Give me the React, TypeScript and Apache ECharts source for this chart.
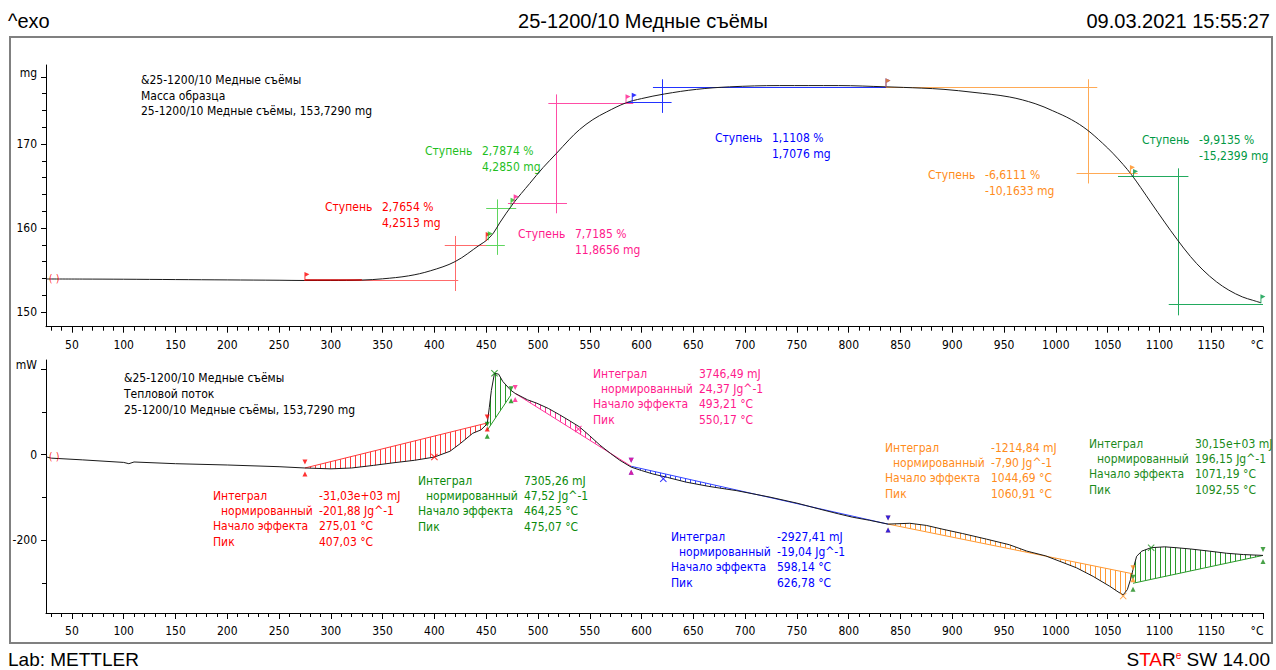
import React, { useEffect, useRef } from 'react';
import * as echarts from 'echarts';

const FONT = '"DejaVu Sans Condensed", "Liberation Sans", Arial, sans-serif';
const HFONT = '"Liberation Sans", Arial, sans-serif';

// ---------- TGA (mass) curve ----------
const tgaT = [25, 60, 100, 150, 200, 250, 275, 300, 330, 350, 375, 396, 420, 444, 450, 457, 463, 476, 492, 505, 518, 530, 540, 553, 566, 585, 600, 622, 653, 685, 733, 790, 836, 870, 892, 920, 955, 980, 997, 1015, 1030, 1045, 1055, 1065, 1073, 1082, 1092, 1105, 1117, 1130, 1142, 1155, 1167, 1180, 1190, 1198];
const tgaM = [153.93, 153.92, 153.9, 153.86, 153.82, 153.78, 153.75, 153.75, 153.8, 153.95, 154.3, 154.9, 156.0, 158.0, 158.5, 159.4, 160.6, 162.9, 165.3, 167.2, 168.9, 170.5, 171.7, 172.9, 173.8, 174.9, 175.4, 175.95, 176.5, 176.8, 176.95, 176.95, 176.8, 176.65, 176.5, 176.15, 175.6, 174.8, 173.95, 172.9, 171.7, 170.1, 168.9, 167.55, 166.35, 164.8, 163.0, 160.7, 158.65, 156.6, 155.0, 153.6, 152.6, 151.8, 151.4, 151.1];

// step evaluation construction lines (temperature °C, mass mg)
const stepLevel1 = [153.8, 158.0, 162.9, 174.96, 176.75, 166.2];
const stepLevel1From = [330, 450, 471, 585, 836, 1060];
const stepLevel1To = [423, 468, 528, 629, 1040, 1128];
const stepLevel2 = [158.0, 162.4, 174.85, 176.7, 166.5, 150.96];
const stepLevel2From = [410, 450, 510, 611, 1020, 1109];
const stepLevel2To = [458, 479, 592, 836, 1079, 1200];
const stepMidT = [420, 460.6, 518, 620, 1031, 1118];
const stepMidLow = [152.5, 156.8, 161.75, 173.7, 165.3, 149.6];
const stepMidHigh = [159.05, 163.4, 175.9, 177.7, 177.7, 167.1];
const redBaseFrom = 275;
const redBaseTo = 330;
const flagT = [275, 450, 452, 474, 477, 585, 591, 836, 836, 1072, 1075, 1198];
const flagM = [153.75, 158.5, 158.6, 162.6, 163.0, 174.9, 175.1, 176.8, 176.8, 166.5, 166.0, 151.1];
const flagStep = [0, 0, 1, 1, 2, 2, 3, 3, 4, 4, 5, 5];
const stepPercent = ['2,7654 %', '2,7874 %', '7,7185 %', '1,1108 %', '-6,6111 %', '-9,9135 %'];
const stepMass = ['4,2513 mg', '4,2850 mg', '11,8656 mg', '1,7076 mg', '-10,1633 mg', '-15,2399 mg'];

// ---------- DSC (heat flow) curve ----------
const dscT = [25, 30, 60, 100, 105, 110, 150, 200, 250, 275, 300, 320, 341, 360, 381, 400, 415, 425, 437, 445, 451, 453, 455, 458, 462, 466, 472, 474, 478, 490, 499, 510, 521, 530, 540, 550, 560, 570, 579, 590, 600, 611, 625, 643, 665, 692, 724, 750, 772, 790, 804, 820, 838, 859, 875, 891, 910, 933, 955, 972, 990, 1004, 1020, 1036, 1052, 1060, 1065, 1069, 1072, 1074.5, 1078, 1083, 1092, 1105, 1116, 1130, 1148, 1165, 1181, 1200];
const dscP = [-5, -8, -12, -18, -21, -17, -21, -24, -28, -31, -33, -31, -25, -19, -13, -5.5, 8, 26, 50, 58, 72, 110, 150, 190, 188, 171, 155, 150, 143, 128, 120, 108, 93, 80, 65, 44, 22, 3, -13, -29, -37, -45, -53, -64, -74, -84, -99, -113, -127, -138, -146, -153, -162, -160, -165, -174, -184, -197, -210, -225, -236, -249, -264, -284, -307, -320, -327, -315, -292, -268, -237, -225, -217, -215, -217, -220, -225, -230, -233, -235];

// integration regions
const regionStart = [275, 451, 478, 590, 838, 1074.5];
const regionEnd = [451, 474, 590, 838, 1074.5, 1200];
const baseStart = [-31, 57, 143, -27, -162, -300];
const baseEnd = [74, 140, -27, -162, -278, -235];
const peakT = [400, 458, 539, 621, 1065, 1092];
const peakP = [-5.5, 190, 60, -56, -330, -217];
const integralTxt = ['-31,03e+03 mJ', '7305,26 mJ', '3746,49 mJ', '-2927,41 mJ', '-1214,84 mJ', '30,15e+03 mJ'];
const normTxt = ['-201,88 Jg^-1', '47,52 Jg^-1', '24,37 Jg^-1', '-19,04 Jg^-1', '-7,90 Jg^-1', '196,15 Jg^-1'];
const onsetTxt = ['275,01 °C', '464,25 °C', '493,21 °C', '598,14 °C', '1044,69 °C', '1071,19 °C'];
const peakTxt = ['407,03 °C', '475,07 °C', '550,17 °C', '626,78 °C', '1060,91 °C', '1092,55 °C'];
const rowNames = ['Интеграл', 'нормированный', 'Начало эффекта', 'Пик'];

const topLegend = ['&25-1200/10 Медные съёмы', 'Масса образца', '25-1200/10 Медные съёмы, 153,7290 mg'];
const botLegend = ['&25-1200/10 Медные съёмы', 'Тепловой поток', '25-1200/10 Медные съёмы, 153,7290 mg'];

// axis ticks
const xMajor: number[] = [];
for (let v = 50; v <= 1200; v += 50) xMajor.push(v);
const xMinor: number[] = [];
for (let v = 30; v <= 1190; v += 10) if (v % 50 !== 0) xMinor.push(v);
const yTopMajor = [150, 160, 170, 178];
const yTopMinor = [152, 154, 156, 158, 162, 164, 166, 168, 172, 174, 176];
const yBotMajor = [-200, 0, 200];
const yBotMinor = [-300, -100, 100];

// styles
const stepText = ['#ff0000', '#1fbf1f', '#ff1a8c', '#0000ff', '#ff8c1a', '#009944'];
const stepLine = ['#ff6b6b', '#5fd65f', '#ff4da6', '#2233ff', '#ffaa55', '#22aa5e'];
const dscText = ['#ff0000', '#0a8a0a', '#ff1a8c', '#0000ff', '#ff8c1a', '#1a8a1a'];
const dscHatch = ['#ff3b3b', '#2a9a2a', '#ff3399', '#3344ff', '#ff9933', '#2a9a2a'];
const stepLabelX = [325, 425, 518, 715, 928, 1142];
const stepLabelY = [207, 151, 234, 138, 175, 140];
const dscLabelX = [213, 418, 593, 671, 885, 1089];
const dscLabelY = [496, 481, 374, 537, 448, 444];

function hatch(color: string) {
  const c = document.createElement('canvas');
  c.width = 5;
  c.height = 4;
  const ctx = c.getContext('2d')!;
  ctx.fillStyle = color;
  ctx.fillRect(0, 0, 1, 4);
  return { image: c.toDataURL(), repeat: 'repeat', imageWidth: 5, imageHeight: 4 };
}

function txt(x: number, y: number, text: string, color: string, size = 12, align = 'left', font = FONT) {
  return {
    type: 'text',
    x,
    y,
    silent: true,
    style: { text, fill: color, font: `${size}px ${font}`, align, verticalAlign: 'middle' },
  };
}

const FLAG = 'path://M0,0 L6,2.5 L1.2,5 L1.2,10 L0,10 Z';
const CROSS = 'path://M1,0 L5,4 L9,0 L10,1 L6,5 L10,9 L9,10 L5,6 L1,10 L0,9 L4,5 L0,1 Z';

function xAxes(grid: number) {
  return [
    {
      type: 'value', gridIndex: grid, position: 'bottom', min: 25, max: 1200,
      axisLine: { show: true, onZero: false, lineStyle: { color: '#000', width: 1 } },
      axisTick: { show: true, customValues: xMajor, length: 6, lineStyle: { color: '#000' } },
      axisLabel: {
        show: true, customValues: xMajor, margin: 12, color: '#000', fontSize: 12, fontFamily: FONT,
        formatter: (v: number) => (v === 1200 ? '{u|°C}' : String(v)),
        rich: { u: { padding: [0, 12, 0, 0], fontSize: 12, fontFamily: FONT, color: '#000' } },
      },
      splitLine: { show: false },
    },
    {
      type: 'value', gridIndex: grid, position: 'bottom', min: 25, max: 1200,
      axisLine: { show: false, onZero: false },
      axisTick: { show: true, customValues: xMinor, length: 4, lineStyle: { color: '#000' } },
      axisLabel: { show: false },
      splitLine: { show: false },
    },
  ];
}

function yAxes(grid: number, min: number, max: number, major: number[], minor: number[], unitAt: number, unit: string) {
  return [
    {
      type: 'value', gridIndex: grid, position: 'left', min, max,
      axisLine: { show: true, onZero: false, lineStyle: { color: '#000', width: 1 } },
      axisTick: { show: true, customValues: major, length: 5, lineStyle: { color: '#000' } },
      axisLabel: {
        show: true, customValues: major, margin: 9, color: '#000', fontSize: 12, fontFamily: FONT,
        formatter: (v: number) => (v === unitAt ? '{u|' + unit + '}' : String(v)),
        rich: { u: { padding: [0, 0, 8, 0], fontSize: 12, fontFamily: FONT, color: '#000' } },
      },
      splitLine: { show: false },
    },
    {
      type: 'value', gridIndex: grid, position: 'left', min, max,
      axisLine: { show: false, onZero: false },
      axisTick: { show: true, customValues: minor, length: 4, lineStyle: { color: '#000' } },
      axisLabel: { show: false },
      splitLine: { show: false },
    },
  ];
}

export default function App() {
  const ref = useRef<HTMLDivElement>(null);
  useEffect(() => {
    const chart = echarts.init(ref.current!, null, { renderer: 'svg' });
    const patterns = dscHatch.map(hatch);

    const graphics: any[] = [
      { type: 'rect', shape: { x: 10, y: 37, width: 1262, height: 606 }, style: { fill: 'none', stroke: '#808080', lineWidth: 2 }, silent: true },
      txt(8, 21, '^exo', '#000', 20, 'left', HFONT),
      txt(643, 21, '25-1200/10 Медные съёмы', '#000', 20, 'center', HFONT),
      txt(1270, 21, '09.03.2021 15:55:27', '#000', 20, 'right', HFONT),
      txt(8, 659, 'Lab: METTLER', '#000', 19, 'left', HFONT),
      {
        type: 'text', x: 1270, y: 659, silent: true,
        style: {
          text: '{b|S}{r|TA}{b|R}{s|e}{b| SW 14.00}', align: 'right', verticalAlign: 'middle',
          rich: {
            b: { fill: '#000', font: `19px ${HFONT}` },
            r: { fill: '#ff0000', font: `19px ${HFONT}` },
            s: { fill: '#ff0000', font: `10px ${HFONT}`, padding: [0, 0, 8, 0] },
          },
        },
      },
    ];
    topLegend.forEach((t, i) => graphics.push(txt(141, 80 + i * 15.5, t, '#000')));
    botLegend.forEach((t, i) => graphics.push(txt(124, 378 + i * 16, t, '#000')));
    for (let i = 0; i < 6; i++) {
      graphics.push(txt(stepLabelX[i], stepLabelY[i], 'Ступень', stepText[i]));
      graphics.push(txt(stepLabelX[i] + 57, stepLabelY[i], stepPercent[i], stepText[i]));
      graphics.push(txt(stepLabelX[i] + 57, stepLabelY[i] + 16, stepMass[i], stepText[i]));
      const vals = [integralTxt[i], normTxt[i], onsetTxt[i], peakTxt[i]];
      for (let r = 0; r < 4; r++) {
        const y = dscLabelY[i] + r * 15.2;
        graphics.push(txt(dscLabelX[i] + (r === 1 ? 8 : 0), y, rowNames[r], dscText[i]));
        graphics.push(txt(dscLabelX[i] + 106, y, vals[r], dscText[i]));
      }
    }

    const stepSeries = stepLevel1.map((_, i) => ({
      type: 'lines', coordinateSystem: 'cartesian2d', xAxisIndex: 0, yAxisIndex: 0, silent: true, z: 2,
      lineStyle: { color: stepLine[i], width: 1, opacity: 1 },
      data: [
        { coords: [[stepLevel1From[i], stepLevel1[i]], [stepLevel1To[i], stepLevel1[i]]] },
        { coords: [[stepLevel2From[i], stepLevel2[i]], [stepLevel2To[i], stepLevel2[i]]] },
        { coords: [[stepMidT[i], stepMidLow[i]], [stepMidT[i], stepMidHigh[i]]] },
      ],
    }));

    const option: any = {
      animation: false,
      backgroundColor: '#fff',
      grid: [
        { left: 46, top: 65, width: 1217, height: 261.7 },
        { left: 46, top: 360, width: 1217, height: 253 },
      ],
      xAxis: [...xAxes(0), ...xAxes(1)],
      yAxis: [
        ...yAxes(0, 148.25, 179.4, yTopMajor, yTopMinor, 178, 'mg'),
        ...yAxes(1, -369.4, 221, yBotMajor, yBotMinor, 200, 'mW'),
      ],
      graphic: { elements: graphics },
      series: [
        ...stepSeries,
        {
          type: 'lines', coordinateSystem: 'cartesian2d', xAxisIndex: 0, yAxisIndex: 0, silent: true, z: 4,
          lineStyle: { color: '#c80000', width: 1.6, opacity: 1 },
          data: [{ coords: [[redBaseFrom, stepLevel1[0]], [redBaseTo, stepLevel1[0]]] }],
        },
        {
          type: 'line', xAxisIndex: 0, yAxisIndex: 0, z: 3, silent: true,
          data: tgaT.map((t, i) => [t, tgaM[i]]),
          showSymbol: false, smooth: 0.35,
          lineStyle: { color: '#1a1a1a', width: 1 },
        },
        {
          type: 'scatter', xAxisIndex: 0, yAxisIndex: 0, z: 5, silent: true,
          symbol: FLAG, symbolSize: [5, 9], symbolOffset: [2, -4],
          data: flagT.map((t, i) => ({ value: [t, flagM[i]], itemStyle: { color: stepText[flagStep[i]] } })),
        },
        {
          type: 'scatter', xAxisIndex: 0, yAxisIndex: 0, z: 5, silent: true,
          symbolSize: 0,
          data: [[33, tgaM[0]]],
          label: { show: true, position: 'inside', formatter: '( )', color: '#ff0000', fontSize: 11, fontFamily: FONT },
        },
        // DSC hatched integration areas
        {
          type: 'custom', xAxisIndex: 2, yAxisIndex: 2, z: 1, silent: true, clip: true,
          data: regionStart.map((t, i) => [t, baseStart[i]]),
          renderItem: (params: any, api: any) => {
            const i = params.dataIndex;
            const pts: number[][] = [];
            for (let k = 0; k < dscT.length; k++) {
              if (dscT[k] >= regionStart[i] && dscT[k] <= regionEnd[i]) pts.push(api.coord([dscT[k], dscP[k]]));
            }
            pts.push(api.coord([regionEnd[i], baseEnd[i]]));
            pts.push(api.coord([regionStart[i], baseStart[i]]));
            return { type: 'polygon', shape: { points: pts }, style: { fill: patterns[i], stroke: null } };
          },
        },
        {
          type: 'lines', coordinateSystem: 'cartesian2d', xAxisIndex: 2, yAxisIndex: 2, silent: true, z: 2,
          lineStyle: { width: 1, opacity: 1 },
          data: regionStart.map((t, i) => ({
            coords: [[t, baseStart[i]], [regionEnd[i], baseEnd[i]]],
            lineStyle: { color: dscHatch[i], width: 1, opacity: 1 },
          })),
        },
        {
          type: 'line', xAxisIndex: 2, yAxisIndex: 2, z: 3, silent: true,
          data: dscT.map((t, i) => [t, dscP[i]]),
          showSymbol: false,
          lineStyle: { color: '#1a1a1a', width: 1 },
        },
        {
          type: 'scatter', xAxisIndex: 2, yAxisIndex: 2, z: 5, silent: true,
          symbol: 'triangle', symbolRotate: 180, symbolSize: 5, symbolOffset: [0, -6],
          data: [
            ...regionStart.map((t, i) => ({ value: [t, baseStart[i]], itemStyle: { color: dscText[i] } })),
            ...regionEnd.map((t, i) => ({ value: [t, baseEnd[i]], itemStyle: { color: dscText[i] } })),
          ],
        },
        {
          type: 'scatter', xAxisIndex: 2, yAxisIndex: 2, z: 5, silent: true,
          symbol: 'triangle', symbolSize: 5, symbolOffset: [0, 6],
          data: [
            ...regionStart.map((t, i) => ({ value: [t, baseStart[i]], itemStyle: { color: dscText[i] } })),
            ...regionEnd.map((t, i) => ({ value: [t, baseEnd[i]], itemStyle: { color: dscText[i] } })),
          ],
        },
        {
          type: 'scatter', xAxisIndex: 2, yAxisIndex: 2, z: 5, silent: true,
          symbol: CROSS, symbolSize: 7,
          data: peakT.map((t, i) => ({ value: [t, peakP[i]], itemStyle: { color: dscText[i] } })),
        },
        {
          type: 'scatter', xAxisIndex: 2, yAxisIndex: 2, z: 5, silent: true,
          symbolSize: 0,
          data: [[33, dscP[0]]],
          label: { show: true, position: 'inside', formatter: '( )', color: '#ff0000', fontSize: 11, fontFamily: FONT },
        },
      ],
    };
    chart.setOption(option);
    return () => chart.dispose();
  }, []);
  return (
    <div
      ref={ref}
      style={{ position: 'fixed', left: 0, top: 0, width: 1276, height: 670, background: '#fff' }}
    />
  );
}
